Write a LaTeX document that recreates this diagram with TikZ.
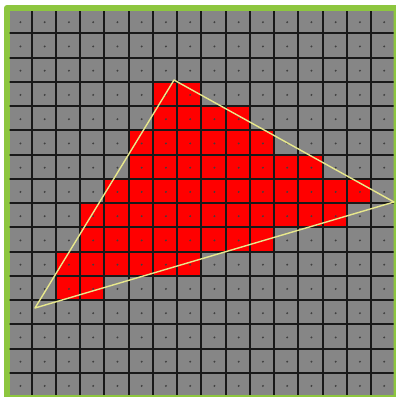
\documentclass[tikz,border=0pt]{standalone}
\usepackage{tikz}
\definecolor{cFrame}{RGB}{141,198,63}
\definecolor{cCell}{RGB}{134,134,134}
\definecolor{cHit}{RGB}{255,0,0}
\definecolor{cEdge}{RGB}{232,232,140}
\begin{document}
\begin{tikzpicture}[x=1pt,y=-1pt,
  gridline/.style={black!90,line width=1.9pt},
  hit/.style={fill=cHit},
  probe/.style={fill=black!75},
  edge/.style={cEdge,line width=1.4pt,line join=round}]
  \useasboundingbox (0,0) rectangle (396,397);
  \fill[white] (0,0) rectangle (396,397);
  \fill[cFrame,rounded corners=3pt] (4,5) rectangle (402,403);
  \begin{scope}
    \clip (9.5,11) rectangle (393.5,394.5);
    \fill[cCell] (9.5,11) rectangle (393.5,394.5);
    \foreach \r/\a/\b in {3/6/7,4/6/9,5/5/10,6/5/12,7/4/14,8/3/13,9/3/10,10/2/7,11/2/3}
      \foreach \c in {\a,...,\b}
        \fill[hit] (7.3+24.25*\c,9.05+24.25*\r) rectangle ++(24.25,24.25);
    \foreach \r in {0,...,15}
      \foreach \c in {0,...,15}
        \fill[probe] (20.4+24.25*\c,22.2+24.25*\r) circle (1.1pt);
    \foreach \k in {1,...,16} {
      \draw[gridline] (7.3+24.25*\k,0) -- ++(0,400);
      \draw[gridline] (0,9.05+24.25*\k) -- ++(400,0);
    }
  \end{scope}
  \coordinate (top) at (174,80);
  \coordinate (right) at (394,202);
  \coordinate (left) at (35,308);
  \draw[edge] (top) -- (right) -- (left) -- cycle;
\end{tikzpicture}
\end{document}
